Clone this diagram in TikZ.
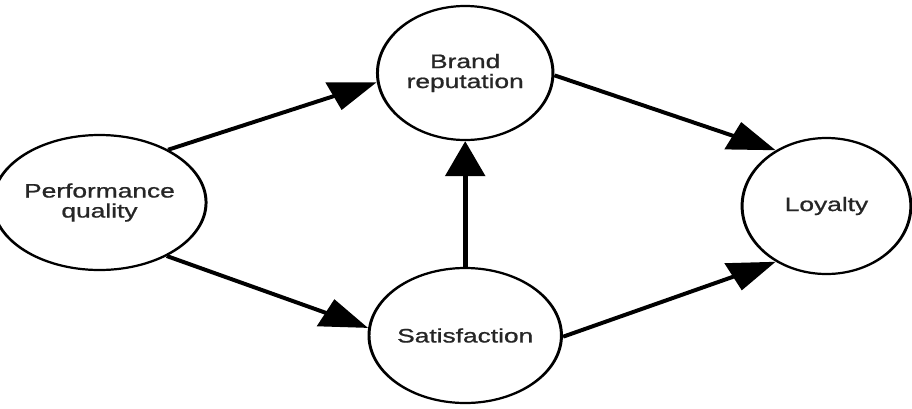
\documentclass[tikz,border=0pt]{standalone}
\usepackage{fontspec}
\newfontfamily\labelfont{Liberation Sans}[FakeBold=0.8]
\usetikzlibrary{arrows.meta,shapes.geometric}

\definecolor{inkgray}{HTML}{262626}

\tikzset{
  construct/.style={ellipse, draw=black, line width=2.2pt, fill=white,
    inner sep=0pt, align=center, text=inkgray,
    font=\labelfont\fontsize{19.5}{20}\selectfont},
  path/.style={draw=black, line width=3.8pt,
    -{Triangle[length=35pt,width=29pt]}}
}

\begin{document}
\begin{tikzpicture}[x=1pt,y=-1pt]
  \useasboundingbox[fill=white] (0,0) rectangle (912,408);
  % the model is laid out at narrow width and widened as a whole
  \begin{scope}[transform canvas={xscale=1.35}]
    \node[construct, minimum width=130pt, minimum height=135pt] (pq) at (73.7,202.5) {Performance\\quality};
    \node[construct, minimum width=130pt, minimum height=134pt] (br) at (344.6,73) {Brand\\reputation};
    \node[construct, minimum width=133pt, minimum height=135pt] (sat) at (344.6,335.5) {Satisfaction};
    \node[construct, minimum width=125pt, minimum height=136pt] (loy) at (612.2,206) {Loyalty};

    \draw[path] (pq.46) -- (br.188);
    \draw[path] (pq.-47) -- (sat.174);
    \draw[path] (sat.north) -- (br.south);
    \draw[path] (br.-2) -- (loy.124);
    \draw[path] (sat.-1) -- (loy.236);
  \end{scope}
\end{tikzpicture}
\end{document}
